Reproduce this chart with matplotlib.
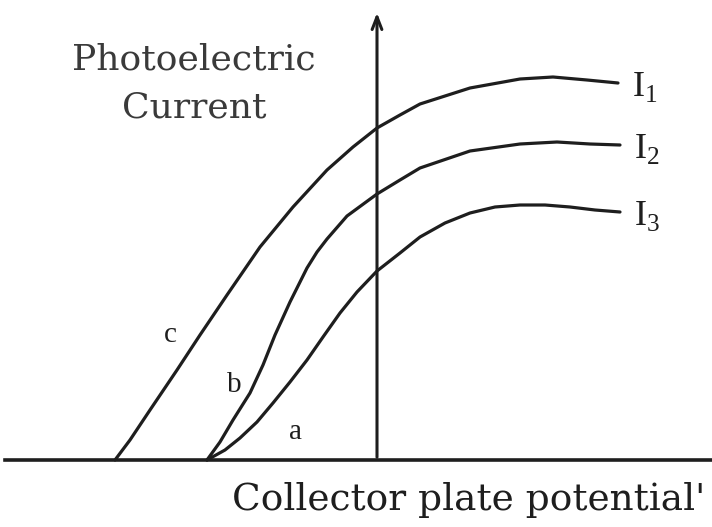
import matplotlib.pyplot as plt

# values (potential, current), origin where the axes cross
c_v = [-262, -247, -227, -200, -177, -150, -117, -84, -50, -24, 0, 23, 43, 93, 143, 176, 210, 241]
c_i = [0, 20, 50, 90, 125, 165, 213, 253, 290, 313, 332, 345, 356, 372, 381, 383, 380, 377]

b_v = [-170, -157, -144, -127, -114, -102, -87, -77, -70, -60, -50, -30, 0, 23, 43, 93, 143, 180, 213, 243]
b_i = [0, 18, 40, 67, 95, 125, 158, 178, 192, 208, 221, 244, 266, 280, 292, 309, 316, 318, 316, 315]

a_v = [-170, -152, -137, -120, -104, -87, -70, -54, -37, -20, 0, 23, 43, 68, 93, 118, 143, 168, 193, 218, 243]
a_i = [0, 10, 22, 38, 57, 78, 100, 123, 147, 168, 189, 207, 223, 237, 247, 253, 255, 255, 253, 250, 248]

curve_names = ['c', 'b', 'a']
intensity_labels = [r'$\mathrm{I}_1$', r'$\mathrm{I}_2$', r'$\mathrm{I}_3$']

plt.rcParams['mathtext.fontset'] = 'custom'
plt.rcParams['mathtext.rm'] = 'Liberation Serif'

ink = '#1e1e1e'
fig = plt.figure(figsize=(7.12, 5.27), dpi=100)
ax = fig.add_axes([0, 0, 1, 1])
ax.set_xlim(-377, 335)
ax.set_ylim(-67, 460)
ax.axis('off')

# axes
ax.plot([-372, 335], [0, 0], color=ink, lw=2.6)
ax.annotate('', xy=(0, 450), xytext=(0, 0),
            arrowprops=dict(arrowstyle='->,head_length=0.9,head_width=0.35', color=ink, lw=2.2))

for v, i in [(c_v, c_i), (b_v, b_i), (a_v, a_i)]:
    ax.plot(v, i, color=ink, lw=2.3, solid_capstyle='round', solid_joinstyle='round')

# curve letters and intensity labels
letter_pos = [(-207, 125), (-143, 75), (-82, 28)]
for name, (x, y) in zip(curve_names, letter_pos):
    ax.text(x, y, name, family='Liberation Serif', fontsize=21, color=ink, ha='center', va='center')

ends = [(c_v, c_i), (b_v, b_i), (a_v, a_i)]
for lab, (v, i) in zip(intensity_labels, ends):
    ax.text(v[-1] + 14, i[-1] - 4, lab, fontsize=26, color=ink, ha='left', va='center')

ax.text(-183, 400, 'Photoelectric', family='DejaVu Serif', fontsize=26, color='#3a3a3a',
        ha='center', va='center')
ax.text(-183, 353, 'Current', family='DejaVu Serif', fontsize=26, color='#3a3a3a',
        ha='center', va='center')
ax.text(-145, -40, "Collector plate potential'", family='DejaVu Serif', fontsize=27,
        color=ink, ha='left', va='center')

fig.savefig('out.png', dpi=100)
